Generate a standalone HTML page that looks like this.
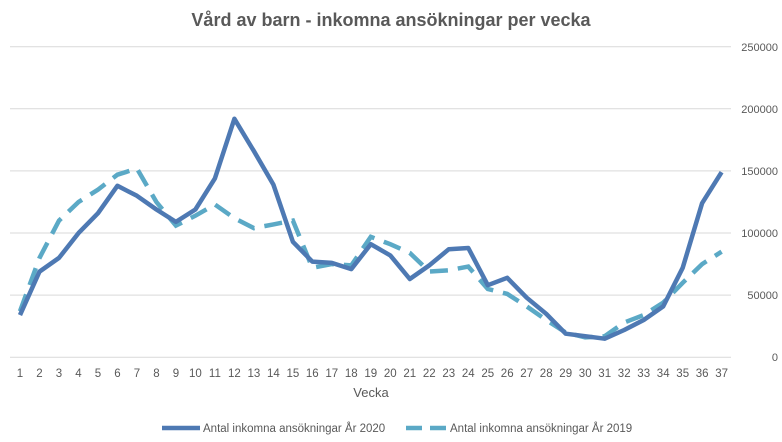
<!DOCTYPE html>
<html><head><meta charset="utf-8"><style>
body{margin:0;background:#fff;}
svg{display:block;font-family:"Liberation Sans",sans-serif;}
</style></head><body>
<svg width="782" height="442" viewBox="0 0 782 442">
<text x="391" y="26" text-anchor="middle" font-size="18" font-weight="bold" fill="#595959">Vård av barn - inkomna ansökningar per vecka</text>
<g stroke="#d9d9d9" stroke-width="1">
<line x1="10" x2="731" y1="46.7" y2="46.7"/>
<line x1="10" x2="731" y1="108.8" y2="108.8"/>
<line x1="10" x2="731" y1="170.9" y2="170.9"/>
<line x1="10" x2="731" y1="233.0" y2="233.0"/>
<line x1="10" x2="731" y1="295.1" y2="295.1"/>
<line x1="10" x2="731" y1="357.3" y2="357.3"/>
</g>
<g font-size="11" fill="#595959" text-anchor="end">
<text x="778" y="51">250000</text>
<text x="778" y="113">200000</text>
<text x="778" y="175">150000</text>
<text x="778" y="237">100000</text>
<text x="778" y="299">50000</text>
<text x="778" y="361">0</text>
</g>
<g id="xl" font-size="11.5" fill="#595959" text-anchor="middle"></g>
<text x="371" y="397" text-anchor="middle" font-size="13" fill="#595959">Vecka</text>
<polyline id="l19" fill="none" stroke="#5ba9c6" stroke-width="4.5" stroke-dasharray="18 10"/>
<polyline id="l20" fill="none" stroke="#4e79b3" stroke-width="4.5" stroke-linejoin="round"/>
<line x1="162" x2="200" y1="428" y2="428" stroke="#4e79b3" stroke-width="4.5"/>
<text x="203" y="432" font-size="11.5" fill="#595959">Antal inkomna ansökningar År 2020</text>
<line x1="406" x2="448" y1="428" y2="428" stroke="#5ba9c6" stroke-width="4.5" stroke-dasharray="16 8"/>
<text x="450" y="432" font-size="11.5" fill="#595959">Antal inkomna ansökningar År 2019</text>
</svg>
<script>
var a=[34,69,80,100,116,138,130,119,109,119,144,192,166,139,93,77,76,71,91,82,63,74,87,88,58,64,48,35,19,17,15,22,30,41,72,124,149];
var b=[37,80,110,125,135,147,152,125,106,114,123,112,104,107,110,72,75,74,97,91,84,69,70,73,55,51,41,30,20,16,17,28,34,44,60,75,85];
function X(i){return 20+i*19.49;}function Y(v){return 357.3-v*1.2424;}
function p(d){return d.map(function(v,i){return X(i).toFixed(1)+","+Y(v).toFixed(1)}).join(" ");}
document.getElementById("l20").setAttribute("points",p(a));
document.getElementById("l19").setAttribute("points",p(b));
var g=document.getElementById("xl"),s="";
for(var i=0;i<37;i++)s+='<text x="'+X(i).toFixed(1)+'" y="377">'+(i+1)+'</text>';
g.innerHTML=s;
</script>
</body></html>
